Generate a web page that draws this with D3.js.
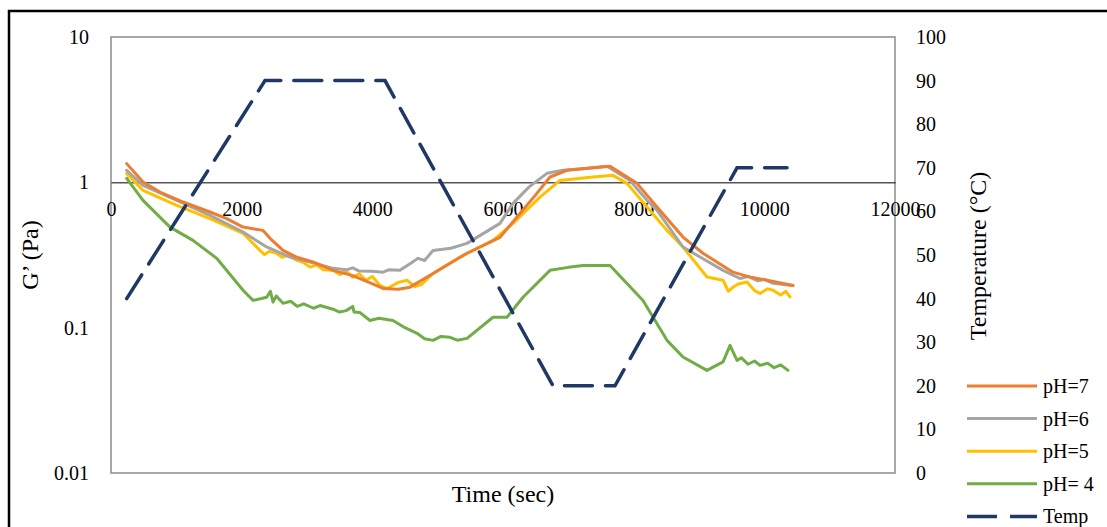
<!DOCTYPE html>
<html>
<head>
<meta charset="utf-8">
<script src="https://cdn.jsdelivr.net/npm/d3@7"></script>
<style>
  body { margin: 0; background: #fff; }
  svg text { font-family: "Liberation Serif", "Times New Roman", serif; fill: #000; }
</style>
</head>
<body>
<div id="chart"></div>
<script>
/*
** Data
*/
var timeTicks = [0, 2000, 4000, 6000, 8000, 10000, 12000]
  , gTicks = [0.01, 0.1, 1, 10]
  , tempTicks = [0, 10, 20, 30, 40, 50, 60, 70, 80, 90, 100]
;
var ph7 = [
    [240, 1.345], [490, 1.005], [750, 0.857], [1102, 0.732], [1515, 0.625], [1771, 0.562]
  , [2021, 0.492], [2327, 0.467], [2434, 0.412], [2633, 0.340], [2847, 0.305], [3100, 0.282]
  , [3398, 0.248], [3700, 0.228], [3950, 0.205], [4163, 0.186], [4400, 0.184], [4577, 0.190]
  , [4929, 0.236], [5449, 0.325], [5954, 0.418], [6214, 0.577], [6500, 0.82], [6719, 1.088]
  , [6980, 1.21], [7300, 1.25], [7638, 1.29], [8051, 0.984], [8357, 0.676], [8755, 0.420]
  , [9061, 0.325], [9520, 0.241], [9800, 0.222], [10041, 0.212], [10250, 0.203], [10439, 0.195]
];
var ph6 = [
    [240, 1.21], [490, 0.953], [1006, 0.752], [1515, 0.593], [2021, 0.455], [2383, 0.359]
  , [2740, 0.306], [3046, 0.283], [3398, 0.256], [3600, 0.250], [3700, 0.258], [3800, 0.245]
  , [4000, 0.244], [4163, 0.241], [4250, 0.250], [4423, 0.248], [4600, 0.280], [4700, 0.300]
  , [4800, 0.290], [4929, 0.340], [5200, 0.352], [5449, 0.380], [5954, 0.522], [6153, 0.717]
  , [6400, 0.93], [6673, 1.153], [6918, 1.21], [7300, 1.25], [7592, 1.29], [7944, 1.03]
  , [8204, 0.752], [8357, 0.642], [8755, 0.359], [9016, 0.306], [9368, 0.248], [9628, 0.218]
  , [9750, 0.225], [9900, 0.210], [10000, 0.215], [10133, 0.202], [10439, 0.195]
];
var ph5 = [
    [240, 1.148], [490, 0.881], [1006, 0.695], [1515, 0.562], [2021, 0.446], [2281, 0.340]
  , [2350, 0.318], [2420, 0.335], [2536, 0.325], [2620, 0.305], [2700, 0.315], [2842, 0.291]
  , [2950, 0.280], [3046, 0.261], [3150, 0.270], [3250, 0.250], [3398, 0.248], [3500, 0.232]
  , [3600, 0.245], [3700, 0.222], [3800, 0.235], [3900, 0.212], [4000, 0.225], [4117, 0.195]
  , [4224, 0.186], [4400, 0.205], [4531, 0.212], [4650, 0.192], [4750, 0.198], [4929, 0.236]
  , [5342, 0.306], [5847, 0.399], [6153, 0.522], [6566, 0.792], [6872, 1.03], [7300, 1.08]
  , [7684, 1.117], [7898, 0.984], [8204, 0.676], [8510, 0.467], [8755, 0.359], [9122, 0.223]
  , [9368, 0.212], [9450, 0.178], [9520, 0.190], [9600, 0.200], [9735, 0.206], [9850, 0.180]
  , [9934, 0.172], [10050, 0.185], [10133, 0.181], [10250, 0.168], [10330, 0.178], [10393, 0.163]
];
var ph4 = [
    [240, 1.065], [490, 0.752], [903, 0.492], [1255, 0.399], [1618, 0.300], [2021, 0.181]
  , [2174, 0.154], [2383, 0.162], [2440, 0.178], [2480, 0.150], [2530, 0.165], [2633, 0.147]
  , [2750, 0.152], [2850, 0.140], [2950, 0.146], [3100, 0.136], [3200, 0.142], [3398, 0.134]
  , [3500, 0.128], [3600, 0.131], [3700, 0.140], [3720, 0.128], [3811, 0.127], [3964, 0.112]
  , [4100, 0.116], [4316, 0.112], [4500, 0.100], [4684, 0.0914], [4800, 0.0840], [4929, 0.0818]
  , [5050, 0.0870], [5189, 0.0858], [5300, 0.0820], [5449, 0.0844], [5847, 0.118]
  , [6061, 0.118], [6306, 0.162], [6719, 0.248], [7000, 0.260], [7224, 0.268], [7638, 0.268]
  , [8143, 0.154], [8510, 0.0818], [8755, 0.0628], [9122, 0.0508], [9368, 0.0582], [9475, 0.0755]
  , [9582, 0.0596], [9650, 0.0620], [9750, 0.0560], [9850, 0.0590], [9934, 0.0550], [10050, 0.0570]
  , [10150, 0.0530], [10250, 0.0555], [10362, 0.0508]
];
var temp = [
    [240, 40], [2357, 90], [4194, 90], [6765, 20], [7714, 20], [9582, 70], [10347, 70]
];
var seriesNames = ["pH=7", "pH=6", "pH=5", "pH= 4", "Temp"]
  , seriesColors = ["#ED7D31", "#A5A5A5", "#FFC000", "#70AD47", "#1F3864"]
;

/*
** Layout
*/
var W = 1107, H = 527
  , plot = { left: 111, right: 895, top: 37, bottom: 473 }
;
var svg = d3.select("#chart").append("svg")
    .attr("width", W)
    .attr("height", H)
;

var x = d3.scaleLinear().domain([0, 12000]).range([plot.left, plot.right])
  , yG = d3.scaleLog().domain([0.01, 10]).range([plot.bottom, plot.top])
  , yT = d3.scaleLinear().domain([0, 100]).range([plot.bottom, plot.top])
;

// outer chart border
svg.append("rect")
    .attr("x", 9).attr("y", 11)
    .attr("width", 1200).attr("height", 600)
    .attr("fill", "none")
    .attr("stroke", "#000")
    .attr("stroke-width", 2.5)
;

// plot area frame
svg.append("rect")
    .attr("x", plot.left).attr("y", plot.top)
    .attr("width", plot.right - plot.left)
    .attr("height", plot.bottom - plot.top)
    .attr("fill", "none")
    .attr("stroke", "#8c8c8c")
    .attr("stroke-width", 1.5)
;

// left axis (log)
var leftAxis = d3.axisLeft(yG)
    .tickValues(gTicks)
    .tickFormat(function(d) { return String(d); })
    .tickSize(0)
    .tickPadding(22)
;
svg.append("g")
    .attr("transform", "translate(" + plot.left + ",0)")
    .call(leftAxis)
    .call(function(g) { g.select(".domain").remove(); })
  .selectAll("text")
    .style("font-size", "20px")
;

// right axis (temperature)
var rightAxis = d3.axisRight(yT)
    .tickValues(tempTicks)
    .tickSize(0)
    .tickPadding(21)
;
svg.append("g")
    .attr("transform", "translate(" + plot.right + ",0)")
    .call(rightAxis)
    .call(function(g) { g.select(".domain").remove(); })
  .selectAll("text")
    .style("font-size", "20px")
;

// x axis crosses at G' = 1
var bottomAxis = d3.axisBottom(x)
    .tickValues(timeTicks)
    .tickFormat(d3.format("d"))
    .tickSize(0)
    .tickPadding(19)
;
var xg = svg.append("g")
    .attr("transform", "translate(0," + yG(1) + ")")
    .call(bottomAxis)
;
xg.select(".domain").attr("stroke", "#000").attr("stroke-width", 1);
xg.selectAll("text")
    .style("font-size", "20px")
;

/*
** Series
*/
var lineG = d3.line()
    .x(function(d) { return x(d[0]); })
    .y(function(d) { return yG(d[1]); })
;
var lineT = d3.line()
    .x(function(d) { return x(d[0]); })
    .y(function(d) { return yT(d[1]); })
;

[ph4, ph5, ph6, ph7].forEach(function(s, i) {
    svg.append("path")
        .datum(s)
        .attr("d", lineG)
        .attr("fill", "none")
        .attr("stroke", seriesColors[3 - i])
        .attr("stroke-width", 3)
        .attr("stroke-linejoin", "round")
        .attr("stroke-linecap", "round")
    ;
});

svg.append("path")
    .datum(temp)
    .attr("d", lineT)
    .attr("fill", "none")
    .attr("stroke", seriesColors[4])
    .attr("stroke-width", 3.5)
    .attr("stroke-dasharray", "28,13")
    .attr("stroke-linecap", "round")
;

/*
** Titles
*/
svg.append("text")
    .attr("transform", "translate(38,255) rotate(-90)")
    .attr("text-anchor", "middle")
    .style("font-size", "24px")
    .text("G\u2019 (Pa)")
;
svg.append("text")
    .attr("transform", "translate(986,256) rotate(-90)")
    .attr("text-anchor", "middle")
    .style("font-size", "24px")
    .text("Temperature (\u00B0C)")
;
svg.append("text")
    .attr("x", 503).attr("y", 502)
    .attr("text-anchor", "middle")
    .style("font-size", "24px")
    .text("Time (sec)")
;

/*
** Legend
*/
var legend = svg.append("g")
  .selectAll("g")
    .data(seriesNames)
  .enter().append("g")
    .attr("transform", function(d, i) { return "translate(967," + (386 + i * 32.6) + ")"; })
;
legend.append("line")
    .attr("x1", 0).attr("x2", 70)
    .attr("stroke", function(d, i) { return seriesColors[i]; })
    .attr("stroke-width", function(d, i) { return i === 4 ? 3.5 : 3; })
    .attr("stroke-dasharray", function(d, i) { return i === 4 ? "30,13" : null; })
;
legend.append("text")
    .attr("x", 76).attr("y", 7)
    .style("font-size", "20px")
    .text(function(d) { return d; })
;
</script>
</body>
</html>
